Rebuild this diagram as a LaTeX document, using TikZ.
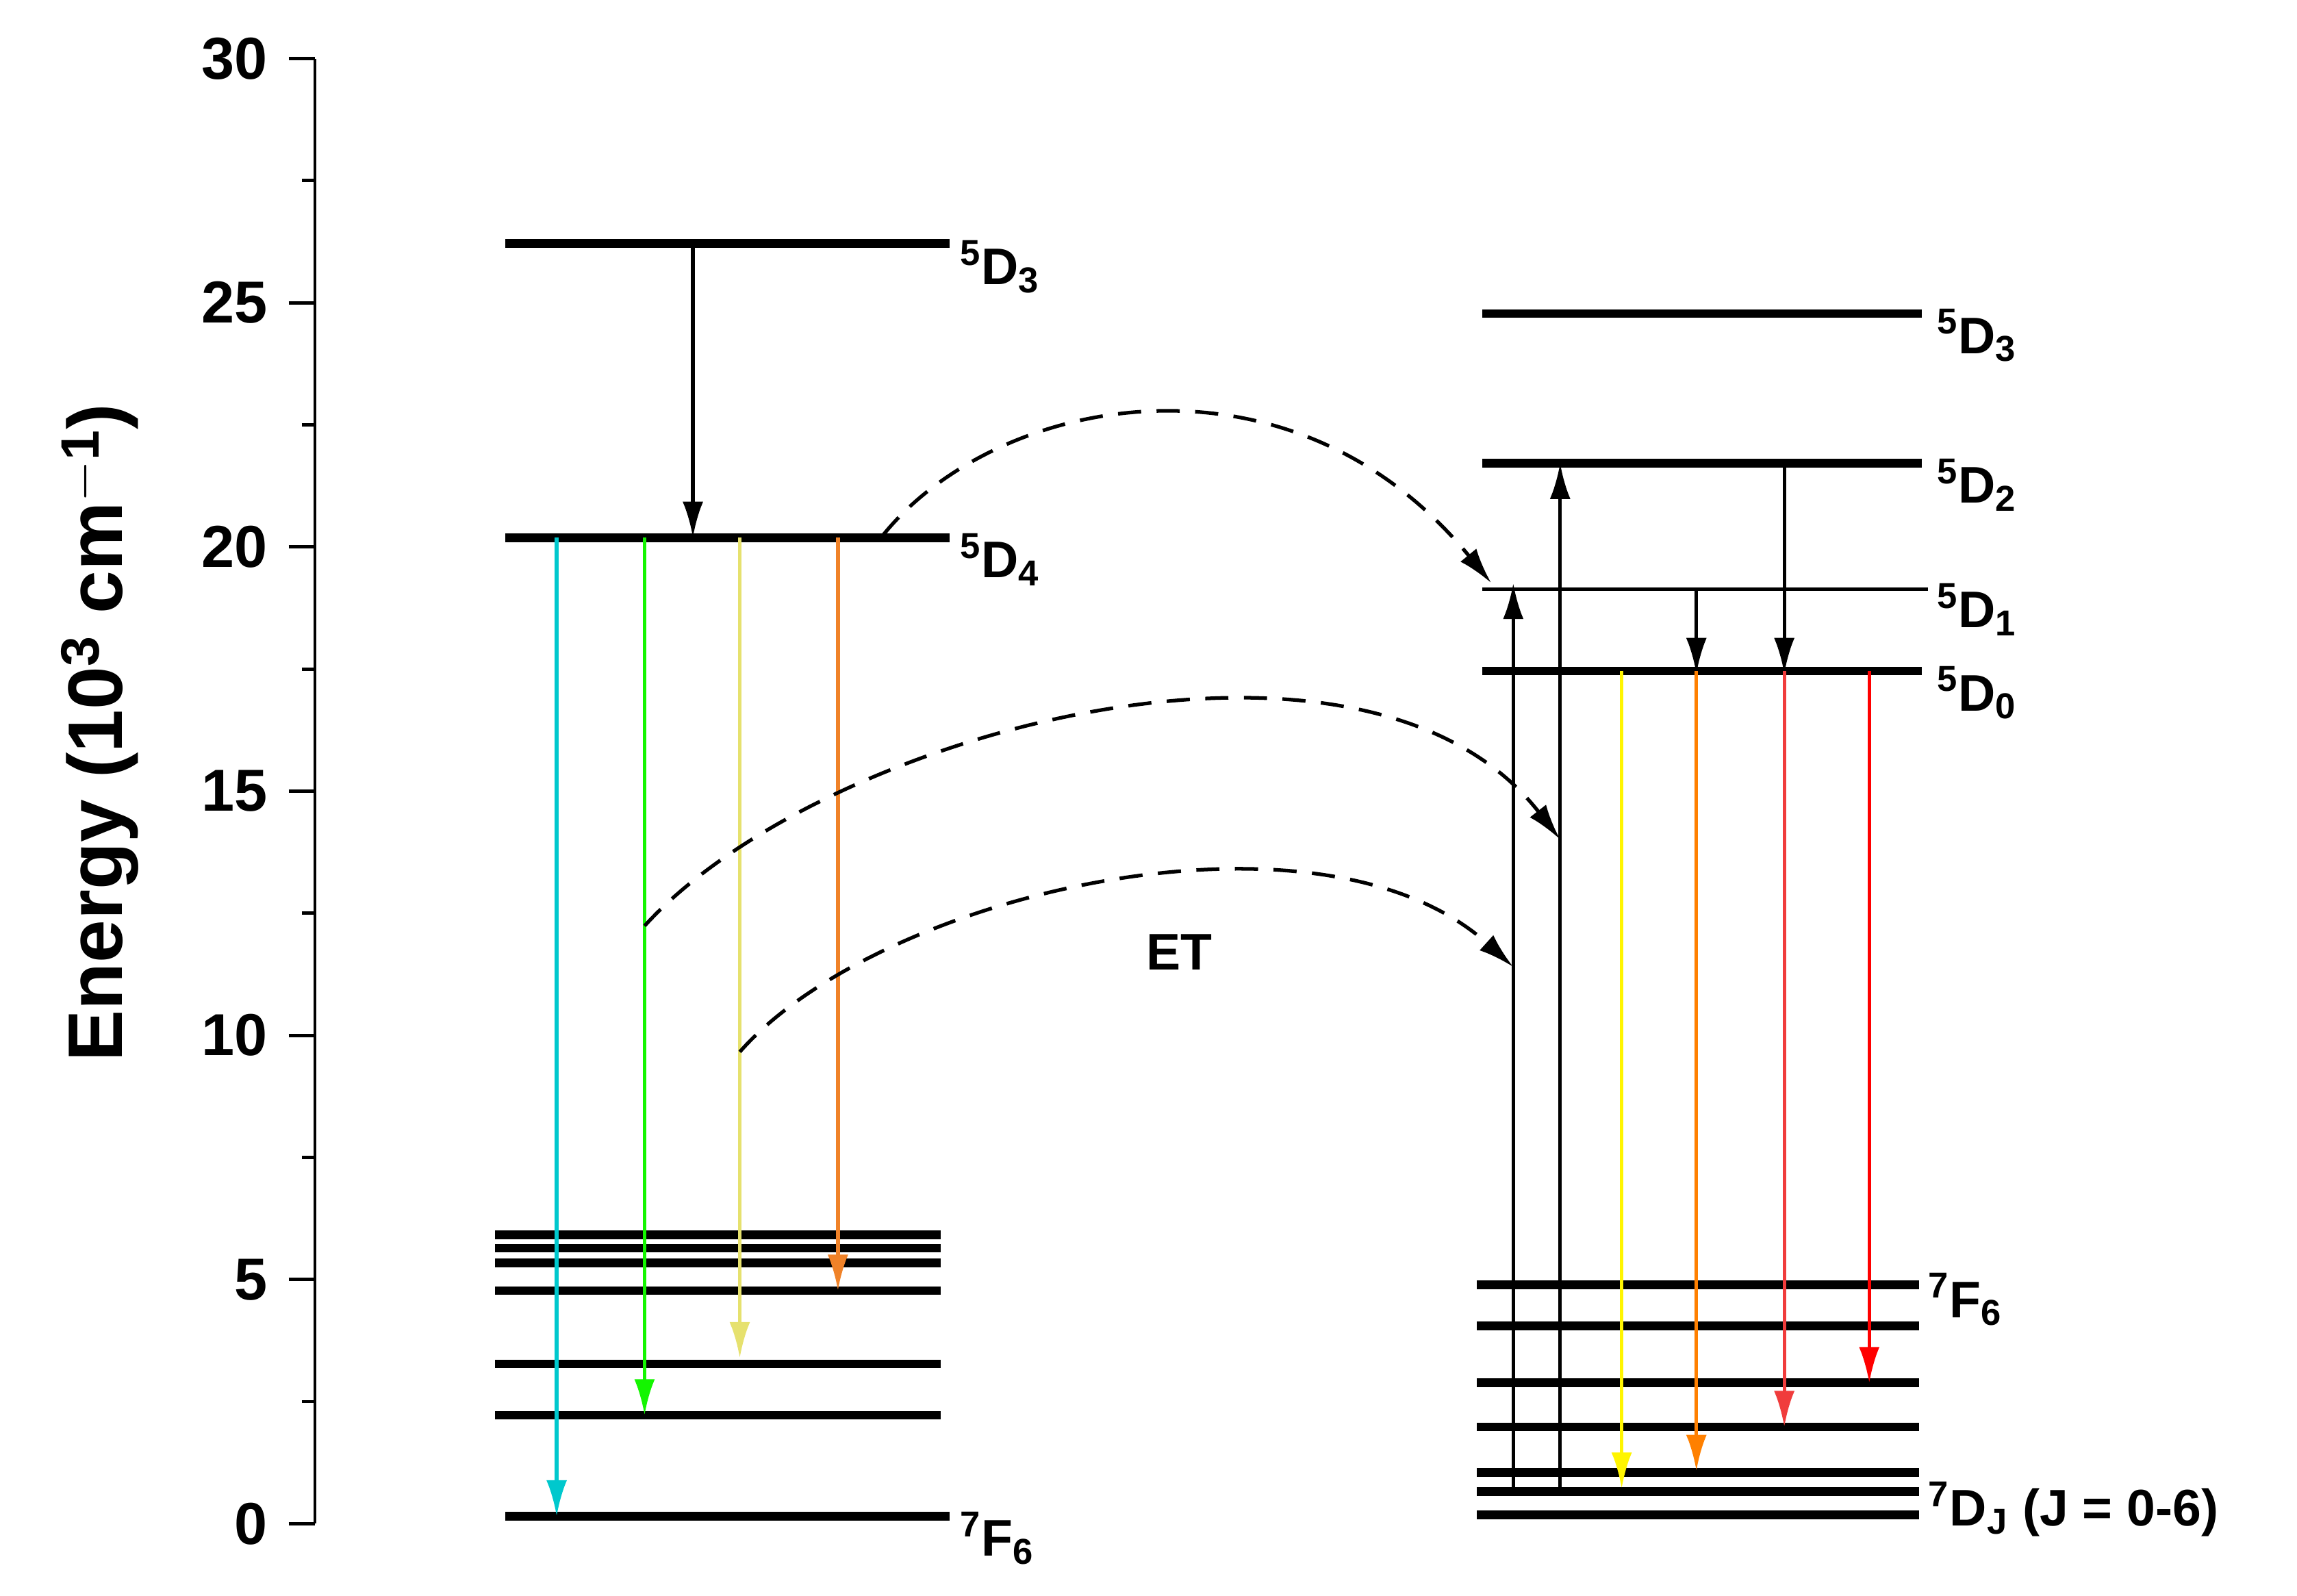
\documentclass[tikz,border=0pt]{standalone}
\usepackage{fontspec}
\setmainfont{Liberation Sans}
\usetikzlibrary{arrows.meta}
\begin{document}
\begin{tikzpicture}[x=0.02cm,y=-0.02cm,
 lev/.style={line width=3.4pt},
 thin/.style={line width=1.3pt},
 ar/.style={line width=1.4pt,-{Latex[length=14pt,width=8pt]}},
 et/.style={line width=1.4pt,dash pattern=on 9pt off 6pt,-{Latex[length=14pt,width=8pt]}},
 lab/.style={font=\fontsize{20}{22}\selectfont\bfseries,anchor=west,inner sep=0pt},
 tl/.style={font=\fontsize{23}{25}\selectfont\bfseries,anchor=east,inner sep=0pt}]
\useasboundingbox (0,0) rectangle (1568,1089);
\definecolor{cy}{RGB}{0,200,205}\definecolor{gr}{RGB}{20,245,0}
\definecolor{ye}{RGB}{230,225,110}\definecolor{or}{RGB}{240,130,40}
\definecolor{ye2}{RGB}{255,245,0}\definecolor{or2}{RGB}{255,128,0}
\definecolor{rl}{RGB}{240,60,60}\definecolor{rd}{RGB}{255,0,0}
% axis
\draw[thin] (215,40) -- (215,1040);
\foreach \e in {0,5,...,30}{
 \draw[thin] (197,{1040-\e*33.333}) -- (215,{1040-\e*33.333});
 \node[tl] at (183,{1040-\e*33.333}) {\e};}
\foreach \e in {2.5,7.5,...,27.5}
 \draw[thin] (206,{1040-\e*33.333}) -- (215,{1040-\e*33.333});
\node[rotate=90,font=\fontsize{30}{32}\selectfont\bfseries] (yl) at (68,500) {Energy (10$^{\mathbf 3}$ cm$^{\mathbf{-1}}$)};
% left levels
\coordinate (L3a) at (345,166);\coordinate (L3b) at (648,166);
\draw[lev] (L3a) -- (L3b);
\draw[lev] (345,367) -- (648,367);
\foreach \y in {843,852,862,881,931,966}\draw[lev] (338,\y) -- (642,\y);
\draw[lev] (345,1035) -- (648,1035);
\node[lab] (a) at (655,182) {$^{\mathbf 5}$D$_{\mathbf 3}$};
\node[lab] (b) at (655,382) {$^{\mathbf 5}$D$_{\mathbf 4}$};
\node[lab] (c) at (655,1050) {$^{\mathbf 7}$F$_{\mathbf 6}$};
\coordinate (p1) at (473,166);\coordinate (p2) at (473,367);
\draw[ar] (p1) -- (p2);
\draw[ar,cy] (380,367) -- (380,1035);
\draw[ar,gr] (440,367) -- (440,966);
\draw[ar,ye] (505,367) -- (505,927);
\draw[ar,or] (572,367) -- (572,881);
% right levels
\draw[lev] (1012,214) -- (1312,214);
\draw[lev] (1012,316) -- (1312,316);
\draw[thin] (1012,402) -- (1316,402);
\draw[lev] (1012,458) -- (1312,458);
\foreach \y in {877,905,944,974,1005,1018,1034}\draw[lev] (1008,\y) -- (1310,\y);
\node[lab] at (1322,229) {$^{\mathbf 5}$D$_{\mathbf 3}$};
\node[lab] at (1322,331) {$^{\mathbf 5}$D$_{\mathbf 2}$};
\node[lab] at (1322,416) {$^{\mathbf 5}$D$_{\mathbf 1}$};
\node[lab] at (1322,473) {$^{\mathbf 5}$D$_{\mathbf 0}$};
\node[lab] at (1316,887) {$^{\mathbf 7}$F$_{\mathbf 6}$};
\node[lab] at (1316,1030) {$^{\mathbf 7}$D$_{\mathbf J}$ (J = 0-6)};
\draw[ar] (1033,1020) -- (1033,398);
\draw[ar] (1065,1020) -- (1065,316);
\draw[ar] (1158,402) -- (1158,460);
\draw[ar] (1218,316) -- (1218,460);
\draw[ar,ye2] (1107,458) -- (1107,1016);
\draw[ar,or2] (1158,458) -- (1158,1004);
\draw[ar,rl] (1218,458) -- (1218,974);
\draw[ar,rd] (1276,458) -- (1276,944);
% ET curves
\draw[et] (603,365) .. controls (680,270) and (880,230) .. (1018,398);
\draw[et] (440,632) .. controls (560,500) and (930,400) .. (1065,573);
\draw[et] (505,718) .. controls (600,610) and (900,540) .. (1033,660);
\node[font=\fontsize{20}{22}\selectfont\bfseries] (et) at (805,650) {ET};
\end{tikzpicture}
\end{document}
